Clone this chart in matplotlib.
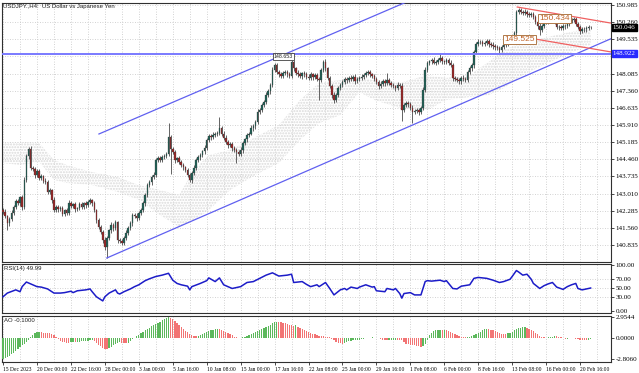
import numpy as np
import matplotlib
matplotlib.use('Agg')
import matplotlib.pyplot as plt
from matplotlib.transforms import blended_transform_factory

# ── Data ─────────────────────────────────────────────────────────────────────
FIRST_OPEN = 142.30
CLOSE = [
    142.25, 142.05, 141.75, 141.95, 142.20, 142.45, 142.70, 142.60, 142.85, 142.45,
    143.60, 144.60, 144.90, 144.10, 144.05, 143.80, 143.95, 143.67, 143.75, 143.55,
    143.50, 143.08, 143.15, 142.74, 142.31, 142.45, 142.35, 142.40, 142.15, 142.30,
    142.20, 142.61, 142.50, 142.55, 142.35, 142.40, 142.55, 142.45, 142.60, 142.53,
    142.65, 142.74, 142.60, 142.30, 141.89, 141.60, 141.38, 141.05, 140.75, 141.13,
    141.45, 141.68, 141.55, 141.81, 141.05, 141.00, 140.92, 141.13, 141.35, 141.56,
    141.75, 142.10, 142.05, 141.97, 142.20, 142.31, 142.60, 142.95, 143.37, 143.50,
    143.71, 143.79, 144.43, 144.50, 144.45, 144.56, 144.60, 144.68, 145.40, 144.90,
    144.77, 144.43, 144.50, 144.35, 144.20, 144.13, 144.00, 143.79, 143.58, 143.88,
    144.10, 144.43, 144.55, 144.64, 144.80, 144.94, 145.28, 145.45, 145.40, 145.49,
    145.52, 145.57, 145.78, 145.55, 145.36, 145.20, 145.06, 145.10, 144.94, 144.85,
    144.77, 144.70, 144.85, 145.15, 145.30, 145.49, 145.55, 145.78, 145.85, 146.04,
    146.46, 146.55, 146.76, 146.90, 147.18, 147.35, 147.60, 148.24, 148.45, 148.15,
    148.05, 147.98, 148.10, 148.15, 148.05, 147.98, 148.57, 148.30, 148.11, 148.05,
    147.98, 148.10, 148.06, 147.95, 147.90, 148.05, 147.95, 148.02, 147.85, 147.81,
    148.24, 148.57, 148.30, 147.90, 147.55, 147.18, 146.97, 147.20, 147.47, 147.60,
    147.73, 147.85, 147.81, 147.90, 147.85, 147.95, 147.77, 147.85, 147.90, 147.95,
    148.02, 148.10, 148.15, 148.05, 147.98, 147.85, 147.73, 147.56, 147.65, 147.75,
    147.69, 147.81, 147.70, 147.60, 147.55, 147.47, 147.60, 147.56, 146.54, 146.76,
    146.85, 146.80, 146.63, 146.46, 146.50, 146.54, 146.45, 146.63, 147.39, 148.24,
    148.53, 148.60, 148.66, 148.55, 148.57, 148.65, 148.74, 148.60, 148.57, 148.66,
    148.55, 148.45, 147.90, 147.85, 147.81, 147.75, 147.90, 147.85, 147.81, 148.15,
    148.30, 148.45, 149.00, 149.35, 149.42, 149.42, 149.35, 149.38, 149.45, 149.33,
    149.30, 149.25, 149.20, 149.17, 149.08, 149.20, 149.29, 149.35, 149.42, 149.50,
    149.59, 149.80, 150.69, 150.77, 150.70, 150.65, 150.70, 150.60, 150.56, 150.62,
    150.48, 150.27, 150.10, 149.93, 150.10, 150.25, 150.35, 150.30, 150.44, 150.38,
    150.27, 150.06, 150.05, 150.01, 150.08, 150.10, 150.20, 150.31, 150.35, 150.39,
    150.18, 150.05, 149.89, 149.97, 149.95, 150.01, 150.05, 150.046,
]
# upper / lower shadow lengths beyond the body, in pips
WICK_UP = [
    8, 10, 6, 9, 12, 7, 10, 8, 6, 9,   12, 10, 8, 14, 9, 7, 11, 8, 9, 6,
    10, 8, 9, 7, 11, 6, 9, 8, 10, 7,   9, 12, 7, 8, 10, 6, 9, 11, 7, 8,
    10, 9, 6, 8, 7, 10, 8, 9, 12, 10,  8, 11, 7, 9, 6, 10, 8, 9, 11, 7,
    10, 8, 9, 12, 7, 10, 11, 9, 8, 10, 9, 12, 10, 8, 11, 7, 9, 10, 60, 8,
    10, 9, 7, 11, 8, 10, 6, 9, 8, 10,  12, 9, 8, 10, 7, 11, 10, 9, 8, 12,
    9, 10, 47, 8, 9, 11, 7, 10, 8, 9,  10, 8, 11, 9, 7, 10, 8, 12, 9, 10,
    11, 9, 10, 8, 12, 9, 10, 14, 8, 10, 9, 11, 8, 10, 7, 9, 9, 10, 8, 11,
    9, 7, 10, 8, 11, 9, 8, 10, 7, 9,   10, 9, 12, 8, 10, 9, 11, 8, 10, 9,
    8, 10, 9, 7, 11, 8, 10, 9, 8, 10,  9, 11, 8, 10, 7, 9, 10, 8, 11, 9,
    10, 29, 8, 9, 10, 7, 11, 9, 12, 10, 9, 8, 10, 11, 7, 9, 10, 8, 14, 12,
    10, 8, 9, 11, 8, 10, 21, 9, 8, 10, 9, 11, 10, 8, 9, 10, 7, 11, 9, 10,
    12, 10, 9, 8, 11, 9, 10, 8, 9, 10, 8, 10, 9, 11, 8, 10, 9, 8, 10, 9,
    11, 10, 9, 9, 10, 8, 11, 9, 10, 8, 9, 10, 8, 11, 9, 10, 8, 9, 10, 8,
    9, 11, 8, 10, 9, 8, 10, 9, 8, 10,  9, 8, 10, 9, 8, 10, 7, 6,
]
WICK_DN = [
    9, 7, 28, 10, 8, 11, 9, 7, 10, 12, 8, 9, 11, 10, 8, 12, 9, 10, 8, 11,
    9, 10, 8, 12, 10, 9, 11, 8, 10, 9, 11, 8, 10, 9, 12, 8, 9, 10, 8, 11,
    9, 10, 12, 8, 11, 10, 9, 14, 12, 45, 10, 9, 11, 8, 12, 10, 8, 9, 10, 11,
    9, 10, 8, 11, 9, 10, 8, 12, 9, 10, 11, 9, 10, 8, 9, 11, 10, 8, 9, 105,
    10, 11, 9, 10, 8, 12, 9, 10, 8, 11, 9, 10, 8, 11, 9, 10, 8, 9, 11, 10,
    9, 8, 10, 11, 9, 10, 12, 8, 11, 10, 47, 10, 9, 11, 8, 10, 9, 8, 11, 10,
    9, 10, 11, 8, 10, 9, 11, 8, 10, 9, 11, 10, 8, 9, 12, 10, 9, 11, 8, 10,
    9, 11, 10, 8, 9, 10, 12, 9, 10, 84, 10, 9, 11, 10, 8, 12, 14, 9, 10, 8,
    9, 10, 11, 8, 10, 9, 11, 8, 10, 9, 10, 8, 9, 11, 10, 9, 8, 12, 10, 9,
    11, 9, 10, 8, 9, 11, 10, 9, 44, 10, 9, 11, 10, 47, 9, 10, 12, 9, 10, 8,
    9, 10, 11, 8, 10, 9, 8, 11, 10, 9, 10, 9, 12, 10, 9, 11, 10, 8, 9, 10,
    9, 10, 11, 8, 9, 10, 8, 11, 9, 10, 9, 11, 10, 9, 12, 10, 9, 8, 10, 9,
    10, 9, 11, 8, 10, 9, 8, 11, 10, 9, 10, 9, 11, 20, 10, 9, 8, 10, 9, 11,
    10, 9, 11, 10, 8, 9, 10, 11, 9, 10, 9, 10, 11, 8, 10, 9, 7, 6,
]

# Ichimoku cloud outline (bar index, upper / lower edge)
CLOUD_BAR = [0, 8, 17, 24, 30, 42, 54, 64, 74, 83, 90, 97, 107, 119, 130, 140,
             149, 159, 168, 175, 187, 200, 209, 220, 229, 236, 245, 255, 265, 277]
CLOUD_TOP = [145.15, 145.19, 145.15, 144.43, 144.22, 143.92, 143.71, 143.37, 143.16,
             142.95, 144.01, 144.64, 144.85, 145.40, 145.91, 146.97, 147.69, 147.81,
             147.94, 147.81, 147.69, 148.02, 147.90, 148.03, 148.58, 149.08, 149.42,
             149.59, 149.80, 150.01]
CLOUD_BOT = [144.30, 144.22, 144.35, 143.59, 143.46, 143.37, 143.08, 142.74, 142.10,
             141.60, 141.89, 142.31, 143.16, 143.80, 144.30, 145.28, 145.99, 146.33,
             147.30, 146.97, 146.63, 146.54, 146.97, 147.09, 147.18, 147.47, 148.02,
             148.45, 148.87, 149.29]

RSI_BAR = [0, 2, 6, 8, 9, 11, 14, 16, 18, 21, 23, 24, 27, 29, 32, 33, 35, 39, 41, 42,
           44, 47, 48, 50, 53, 54, 55, 57, 60, 62, 64, 67, 69, 72, 75, 78, 80, 82, 84,
           87, 88, 89, 93, 96, 97, 100, 102, 104, 106, 108, 112, 115, 118, 121, 124,
           127, 130, 134, 136, 137, 141, 143, 145, 148, 149, 152, 154, 156, 159, 161,
           162, 164, 167, 168, 171, 174, 175, 176, 180, 181, 184, 185, 187, 188, 189,
           192, 194, 197, 199, 200, 202, 206, 208, 209, 212, 214, 216, 220, 222, 224,
           228, 231, 234, 236, 239, 240, 242, 243, 245, 247, 249, 250, 253, 255, 257,
           259, 261, 264, 266, 268, 270, 271, 273, 275, 277]
RSI_VAL = [31, 39, 46, 42, 53, 63, 57, 53, 52, 48, 42, 39, 39, 40, 43, 40, 44, 46, 48, 42,
           31, 22, 31, 39, 46, 39, 37, 42, 48, 53, 57, 66, 70, 75, 78, 82, 67, 60, 57,
           54, 46, 53, 60, 66, 72, 64, 72, 57, 53, 49, 53, 62, 64, 71, 78,
           83, 76, 78, 80, 62, 64, 58, 53, 57, 53, 62, 49, 35, 46, 49,
           46, 52, 49, 52, 57, 52, 53, 44, 42, 49, 46, 49, 38, 28, 38,
           40, 35, 35, 64, 66, 65, 67, 64, 66, 49, 48, 54, 57, 71, 73,
           71, 67, 62, 64, 69, 75, 88, 85, 78, 80, 69, 60, 49, 55, 59,
           62, 52, 47, 53, 57, 60, 49, 46, 48, 49.99]

AO = [
    -2.806, -2.70, -2.55, -2.35, -2.15, -1.95, -1.70, -1.45, -1.20, -0.95,
    -0.70, -0.45, -0.15, 0.15, 0.45, 0.70, 0.90, 0.93, 0.85, 0.78,
    0.76, 0.74, 0.70, 0.62, 0.47, 0.20, -0.10, -0.33, -0.45, -0.52,
    -0.56, -0.58, -0.55, -0.52, -0.55, -0.50, -0.45, -0.40, -0.36, -0.33,
    -0.28, -0.22, -0.19, -0.35, -0.56, -0.85, -1.10, -1.26, -1.40, -1.50,
    -1.35, -1.15, -0.95, -0.80, -0.60, -0.50, -0.56, -0.62, -0.66, -0.60,
    -0.35, -0.10, 0.10, 0.30, 0.47, 0.70, 0.90, 1.10, 1.30, 1.50,
    1.70, 1.87, 2.02, 2.18, 2.33, 2.50, 2.70, 2.82, 2.9544, 2.85,
    2.70, 2.40, 2.10, 1.85, 1.55, 1.30, 1.05, 0.85, 0.60, 0.45,
    0.35, 0.28, 0.35, 0.47, 0.62, 0.80, 0.93, 1.03, 1.10, 1.17,
    1.25, 1.30, 1.27, 1.20, 1.05, 0.90, 0.75, 0.60, 0.42, 0.27,
    0.14, 0.05, 0.08, 0.15, 0.22, 0.28, 0.45, 0.62, 0.78, 0.93,
    1.05, 1.18, 1.30, 1.42, 1.54, 1.70, 1.90, 2.15, 2.22, 2.25,
    2.24, 2.20, 2.15, 2.08, 2.00, 1.92, 1.85, 1.77, 1.80, 1.60,
    1.40, 1.30, 1.15, 1.00, 0.84, 0.76, 0.68, 0.60, 0.51, 0.40,
    0.32, 0.28, 0.24, 0.20, 0.14, -0.05, -0.25, -0.47, -0.60, -0.68,
    -0.70, -0.60, -0.48, -0.33, -0.28, -0.22, -0.18, -0.15, -0.14, -0.08,
    -0.02, 0.05, 0.10, 0.13, 0.14, 0.10, 0.05, 0.00, -0.08, -0.15,
    -0.20, -0.23, -0.20, -0.17, -0.15, -0.14, -0.15, -0.16, -0.20, -0.45,
    -0.70, -0.78, -0.85, -0.90, -0.93, -1.00, -1.10, -1.17, -1.00, -0.70,
    -0.15, 0.47, 0.80, 1.07, 1.10, 1.14, 1.17, 1.17, 1.18, 1.12,
    1.07, 0.95, 0.78, 0.60, 0.45, 0.33, 0.23, 0.18, 0.14, 0.20,
    0.27, 0.33, 0.50, 0.65, 0.80, 0.95, 1.10, 1.26, 1.30, 1.25,
    1.18, 1.10, 1.03, 0.90, 0.75, 0.60, 0.58, 0.56, 0.70, 0.82,
    0.93, 1.10, 1.25, 1.40, 1.47, 1.52, 1.54, 1.45, 1.30, 1.17,
    1.00, 0.82, 0.60, 0.40, 0.25, 0.14, 0.12, 0.14, 0.20, 0.27,
    0.33, 0.28, 0.20, 0.14, 0.05, -0.05, -0.02, 0.02, 0.05, 0.00,
    -0.05, -0.10, -0.14, -0.18, -0.21, -0.23, -0.18, -0.10,
]

PRICE_TICKS = [150.985, 150.260, 149.535, 148.810, 148.085, 147.360, 146.635,
               145.910, 145.185, 144.460, 143.735, 143.010, 142.285, 141.560, 140.835]
DATE_LABELS = ['15 Dec 2023', '20 Dec 00:00', '22 Dec 16:00', '28 Dec 00:00',
               '3 Jan 00:00', '5 Jan 16:00', '10 Jan 08:00', '15 Jan 00:00',
               '17 Jan 16:00', '22 Jan 08:00', '25 Jan 00:00', '29 Jan 16:00',
               '1 Feb 08:00', '6 Feb 00:00', '8 Feb 16:00', '13 Feb 08:00',
               '16 Feb 00:00', '20 Feb 16:00']

# trend lines: (bar, price) start and end points
CHANNEL_UP = [(45.2, 145.53), (190.6, 151.13)]
CHANNEL_DN = [(48.9, 140.285), (286.6, 149.56)]
RED_UP = [(242.4, 150.90), (286.6, 150.22)]
RED_DN = [(248.0, 149.59), (286.6, 149.00)]
LEVEL = 148.922
LAST = 150.046

# ── Derived ──────────────────────────────────────────────────────────────────
close = np.array(CLOSE)
n = len(close)
opens = np.r_[FIRST_OPEN, close[:-1]]
highs = np.maximum(opens, close) + np.array(WICK_UP) / 100
lows = np.minimum(opens, close) - np.array(WICK_DN) / 100
x = np.arange(n)
ao = np.array(AO)

XMIN, XMAX = -0.5, 286.6
GRID = dict(color='#c4c4c4', linestyle=(0, (1, 2)), linewidth=0.6, zorder=0)
SERIF = 'Liberation Serif'
SANS = 'Liberation Sans'

fig = plt.figure(figsize=(6.39, 3.73), dpi=100)
fig.patch.set_facecolor('white')
L, W = 2 / 639, 609 / 639
ax = fig.add_axes([L, 1 - 262 / 373, W, 259 / 373])
ax_rsi = fig.add_axes([L, 1 - 313 / 373, W, 49 / 373])
ax_ao = fig.add_axes([L, 1 - 362 / 373, W, 46 / 373])

for a in (ax, ax_rsi, ax_ao):
    a.set_xlim(XMIN, XMAX)
    for s in a.spines.values():
        s.set_color('#303030')
        s.set_linewidth(0.8)
    a.yaxis.tick_right()
    a.tick_params(axis='y', labelsize=5, length=2, width=0.5, pad=1.5,
                  labelfontfamily=SERIF)
    for gx in range(0, n + 8, 8):
        a.axvline(gx, **GRID)

# ── Main price panel ─────────────────────────────────────────────────────────
ax.set_ylim(140.116, 151.07)
ax.set_yticks(PRICE_TICKS)
# 148.810 sits under the blue level box, as in the terminal
ax.set_yticklabels(['' if abs(v - 148.810) < 1e-6 else f'{v:.3f}' for v in PRICE_TICKS])
for v in PRICE_TICKS:
    ax.axhline(v, **GRID)
ax.set_xticks([])

ax.fill_between(CLOUD_BAR, CLOUD_BOT, CLOUD_TOP, facecolor='none',
                edgecolor='#dadada', hatch='......', linewidth=0, zorder=1)

bull = close >= opens
ax.vlines(x, lows, highs, color='#4a4a4a', linewidth=0.6, zorder=3)
body_lo = np.minimum(opens, close)
body_h = np.maximum(np.abs(close - opens), 0.02)
ax.bar(x[bull], body_h[bull], bottom=body_lo[bull], width=0.72,
       color='#1f5f55', edgecolor='#3c3c3c', linewidth=0.2, zorder=4)
ax.bar(x[~bull], body_h[~bull], bottom=body_lo[~bull], width=0.72,
       color='#992626', edgecolor='#3c3c3c', linewidth=0.2, zorder=4)

for (x0, y0), (x1, y1) in (CHANNEL_UP, CHANNEL_DN):
    ax.plot([x0, x1], [y0, y1], color='#6060f0', linewidth=0.9, zorder=5)
for (x0, y0), (x1, y1) in (RED_UP, RED_DN):
    ax.plot([x0, x1], [y0, y1], color='#f06060', linewidth=0.9, zorder=5)
ax.axhline(LEVEL, color='#7a7aff', linewidth=1.4, zorder=5)

box = dict(boxstyle='square,pad=0.15', facecolor='white', edgecolor='#b07a4a',
           linewidth=0.7)
ax.text(502 / 2.125, 149.525, '149.525', fontsize=6, color='#c0642a',
        family=SANS, va='center', ha='left', bbox=box, zorder=6)
ax.text(537 / 2.125, 150.41, '150.434', fontsize=6, color='#c0642a',
        family=SANS, va='center', ha='left', bbox=box, zorder=6)
ax.text(271 / 2.125, 148.80, '148.653', fontsize=3.8, color='#202020',
        family=SANS, va='center', ha='left', zorder=6,
        bbox=dict(boxstyle='square,pad=0.15', facecolor='white',
                  edgecolor='#404040', linewidth=0.6))

ax.text(0.002, 0.995, 'USDJPY.,H4:  US Dollar vs Japanese Yen',
        transform=ax.transAxes, fontsize=4.3, family=SANS, va='top', ha='left',
        color='#202020')

trans = blended_transform_factory(ax.transAxes, ax.transData)
ax.text(1.003, LAST, f'{LAST:.3f}', transform=trans, fontsize=5, family=SERIF,
        color='white', va='center', ha='left', zorder=7, clip_on=False,
        bbox=dict(boxstyle='square,pad=0.15', facecolor='black', edgecolor='black'))
ax.text(1.003, LEVEL, f'{LEVEL:.3f}', transform=trans, fontsize=5, family=SERIF,
        color='white', va='center', ha='left', zorder=7, clip_on=False,
        bbox=dict(boxstyle='square,pad=0.15', facecolor='#2a2aff', edgecolor='#2a2aff'))

# ── RSI panel ────────────────────────────────────────────────────────────────
ax_rsi.set_ylim(-4.3, 102.2)
ax_rsi.set_yticks([100, 70, 50, 30, 0])
ax_rsi.set_yticklabels(['100.00', '70.00', '50.00', '30.00', '0.00'])
for v in (70, 50, 30):
    ax_rsi.axhline(v, **GRID)
ax_rsi.set_xticks([])
ax_rsi.plot(RSI_BAR, RSI_VAL, color='#1c1cc8', linewidth=1.1, zorder=3)
ax_rsi.text(0.004, 0.96, 'RSI(14) 49.99', transform=ax_rsi.transAxes,
            fontsize=4.3, family=SANS, va='top', ha='left', color='#202020')

# ── AO panel ─────────────────────────────────────────────────────────────────
ax_ao.set_ylim(-3.23, 3.09)
ax_ao.set_yticks([2.9544, 0.0, -2.806])
ax_ao.set_yticklabels(['2.9544', '0.0000', '-2.8060'])
rising = np.r_[True, ao[1:] > ao[:-1]]
ax_ao.bar(x, ao, width=0.6, color=np.where(rising, '#5cb85c', '#f27474'),
          linewidth=0, zorder=3)
ax_ao.text(0.004, 0.96, 'AO -0.1000', transform=ax_ao.transAxes,
           fontsize=4.3, family=SANS, va='top', ha='left', color='#202020')

ax_ao.set_xticks(np.arange(len(DATE_LABELS)) * 16)
ax_ao.set_xticklabels(DATE_LABELS, ha='left', fontsize=4.0, family=SERIF)
ax_ao.tick_params(axis='x', length=2, width=0.5, pad=1.5)

fig.savefig('out.png', dpi=100)
